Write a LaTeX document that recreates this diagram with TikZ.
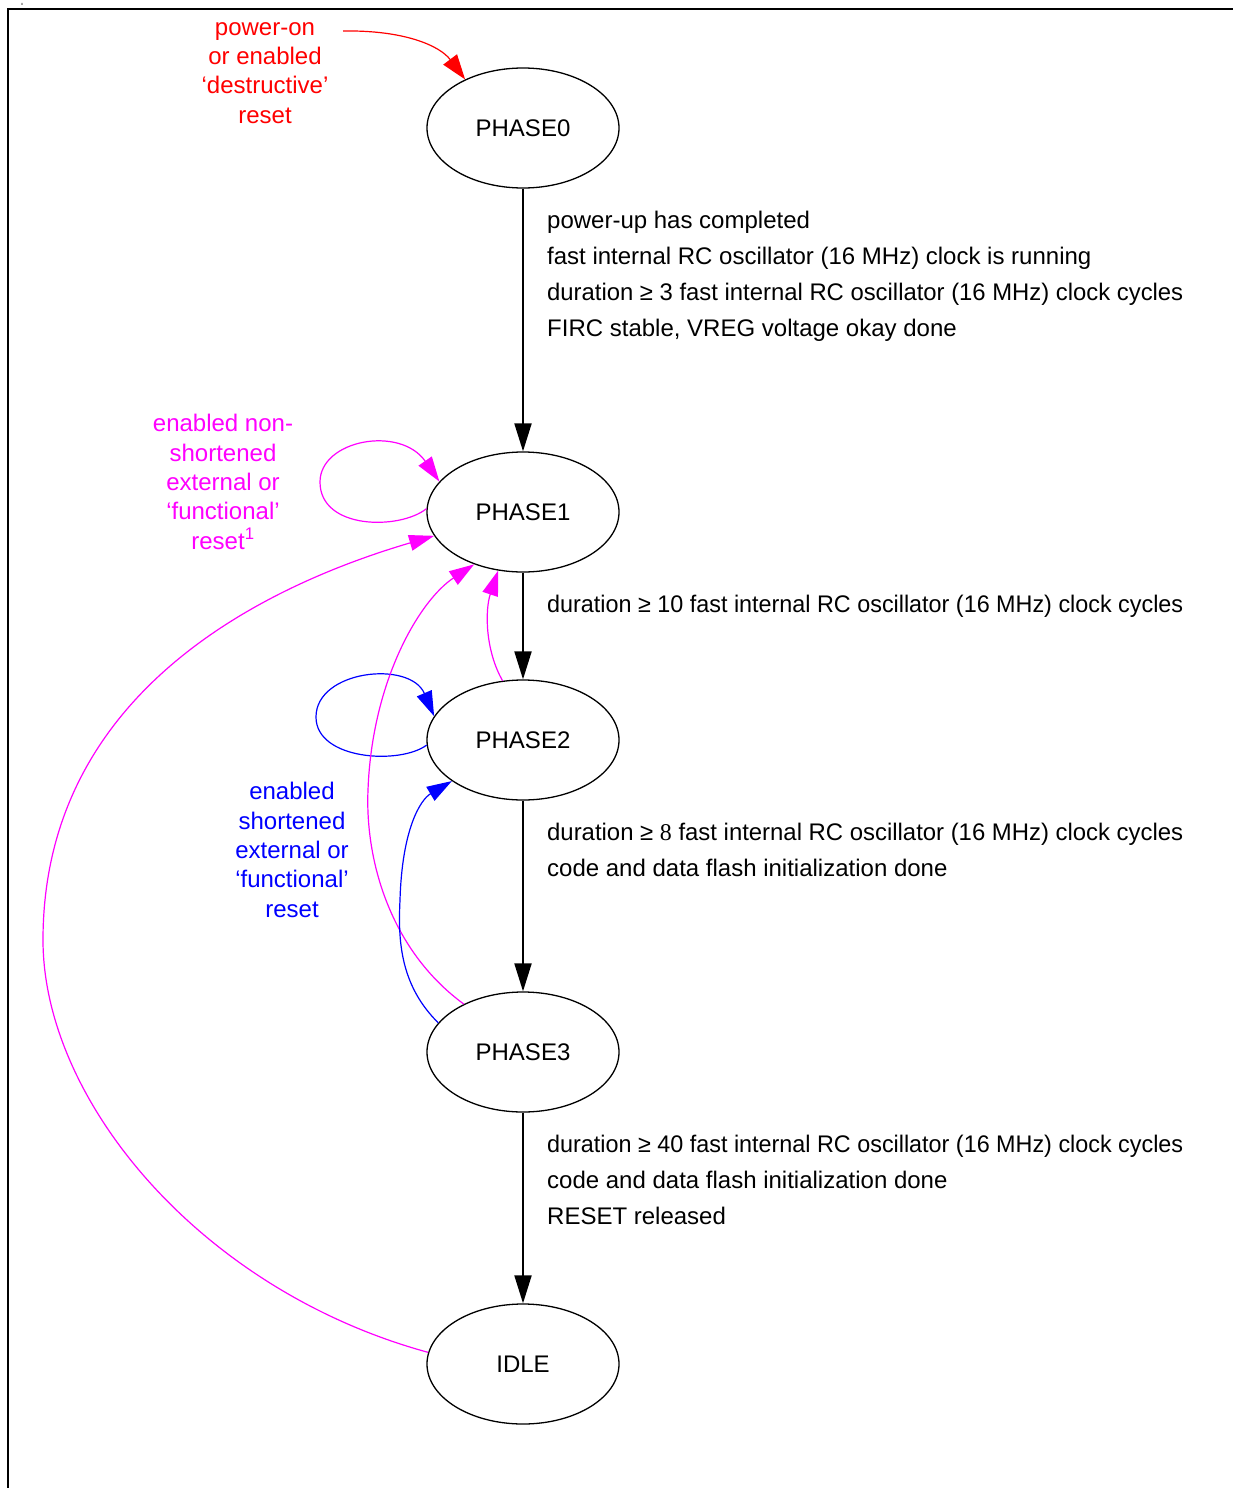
\documentclass[tikz,border=0pt]{standalone}
\usepackage{fontspec}
\setmainfont{Liberation Sans}
\newfontfamily\tmsfont{Liberation Serif}
\usetikzlibrary{arrows.meta,shapes.geometric}
\definecolor{cred}{RGB}{255,0,0}
\definecolor{cmag}{RGB}{255,0,255}
\definecolor{cblue}{RGB}{0,0,255}
\newcommand{\fitdur}[1]{\resizebox{636pt}{\height}{#1}}
\begin{document}
\begin{tikzpicture}[x=1pt,y=-1pt,
  phase/.style={ellipse,draw=black,line width=1.3pt,minimum width=192pt,minimum height=120pt,inner sep=0pt,font=\fontsize{24}{28}\selectfont},
  flow/.style={line width=2pt,-{Triangle[length=28pt,width=17pt]}},
  back/.style={line width=1.2pt,-{Triangle[length=25pt,width=16pt]}},
  cond/.style={anchor=base west,inner sep=0pt,align=left,font=\fontsize{24}{36}\selectfont},
  reslab/.style={anchor=base,inner sep=0pt,align=center,font=\fontsize{24}{29.3}\selectfont}]
\useasboundingbox (0,0) rectangle (1233,1488);
\draw[line width=2pt] (8,1488) -- (8,9) -- (1233,9);
\node[inner sep=0pt,font=\fontsize{4}{4}\selectfont] (xmark) at (22,4) {x};

\node[phase] (p0) at (523,128) {PHASE0};
\node[phase] (p1) at (523,512) {PHASE1};
\node[phase] (p2) at (523,740) {PHASE2};
\node[phase] (p3) at (523,1052) {PHASE3};
\node[phase] (idle) at (523,1364) {IDLE};

\draw[flow] (p0) -- (p1);
\draw[flow] (p1) -- (p2);
\draw[flow] (p2) -- (p3);
\draw[flow] (p3) -- (idle);

% multi-line nodes: base anchor sits on the last line
\node[cond] (c0) at (547,336) {power-up has completed\\
fast internal RC oscillator (16 MHz) clock is running\\
\fitdur{duration ≥ 3 fast internal RC oscillator (16 MHz) clock cycles}\\
FIRC stable, VREG voltage okay done};
\node[cond] (c1) at (547,612) {\fitdur{duration ≥ 10 fast internal RC oscillator (16 MHz) clock cycles}};
\node[cond] (c2) at (547,876) {\fitdur{duration ≥ {\tmsfont 8} fast internal RC oscillator (16 MHz) clock cycles}\\
code and data flash initialization done};
\node[cond] (c3) at (547,1224) {\fitdur{duration ≥ 40 fast internal RC oscillator (16 MHz) clock cycles}\\
code and data flash initialization done\\
RESET released};

\node[reslab,text=cred] (lred) at (265,123) {power-on\\or enabled\\`destructive'\\reset};
\node[reslab,text=cmag] (lmag) at (223,549) {enabled non-\\shortened\\external or\\`functional'\\reset\textsuperscript{1}};
\node[reslab,text=cblue] (lblue) at (292,917) {enabled\\shortened\\external or\\`functional'\\reset};

\coordinate (rstart) at (343,31);
\draw[cred,line width=1.2pt,-{Triangle[length=25pt,width=17pt]}] (rstart) .. controls (405,30) and (440,46) .. (p0.140);

\draw[back,cmag] (p1.178) .. controls (400,530) and (320,530) .. (320,482) .. controls (320,440) and (400,425) .. (p1.160);
\draw[back,cblue] (p2.183) .. controls (400,765) and (316,760) .. (316,717) .. controls (316,670) and (410,660) .. (p2.165);
\draw[back,cmag] (idle.173) .. controls (200,1290) and (43,1100) .. (43,940) .. controls (43,700) and (250,590) .. (p1.195);
\draw[back,cmag] (p3.141) .. controls (390,950) and (365,860) .. (368,790) .. controls (372,680) and (420,600) .. (p1.227);
\draw[back,cmag] (p2.109) .. controls (485,650) and (485,610) .. (p1.247);
\draw[back,cblue] (p3.161) .. controls (400,985) and (398,940) .. (400,900) .. controls (402,830) and (420,800) .. (p2.210);
\end{tikzpicture}
\end{document}
